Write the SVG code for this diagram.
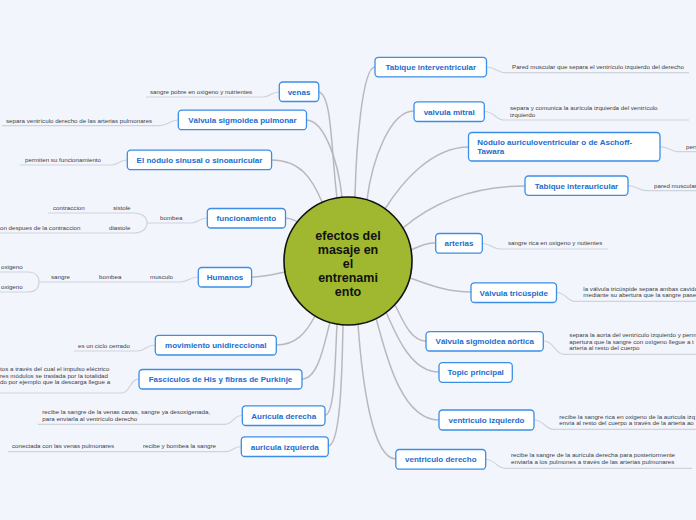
<svg xmlns="http://www.w3.org/2000/svg" width="696" height="520" viewBox="0 0 696 520">
<style>
.bg{fill:#f3f5fd}
.main{fill:none;stroke:#b9b9bd;stroke-width:1.5}
.leaf{fill:none;stroke:#cfd3dc;stroke-width:1.2}
.box{fill:#ffffff;stroke:#3a8ee6;stroke-width:1.3}
.nt{font-family:"Liberation Sans",Arial,sans-serif;font-weight:bold;font-size:8px;fill:#1b6ccf}
.nl{font-family:"Liberation Sans",Arial,sans-serif;font-weight:bold;font-size:8px;fill:#1b6ccf}
.lt{font-family:"Liberation Sans",Arial,sans-serif;font-size:6.2px;fill:#3d3d3d}
.ct{font-family:"Liberation Sans",Arial,sans-serif;font-weight:bold;font-size:12.5px;fill:#111;text-anchor:middle}
</style>
<rect class="bg" x="0" y="0" width="696" height="520"/>
<g id="connectors">
<path class="main" d="M318,92 C332,92 331,150 337,198"/>
<path class="main" d="M306,120 C324,120 338,160 342,197"/>
<path class="main" d="M271,160 C300,160 312,178 322,202"/>
<path class="main" d="M285,218 C291,218 293,220 298,222"/>
<path class="main" d="M251,277 C265,277 275,274 285,272"/>
<path class="main" d="M276,345 C296,345 306,333 315,316"/>
<path class="main" d="M302,379 C318,379 324,345 330,322"/>
<path class="main" d="M325,415 C335,415 335,360 337,324"/>
<path class="main" d="M328,446 C340,446 342,380 343,325"/>
<path class="main" d="M375,67 C362,67 356,150 355,197"/>
<path class="main" d="M414,111 C390,111 372,160 367,200"/>
<path class="main" d="M469,147 C430,147 400,185 385,209"/>
<path class="main" d="M525,186 C470,186 430,205 403,228"/>
<path class="main" d="M435,243 C424,243 418,247 411,250"/>
<path class="main" d="M471,292 C445,292 425,283 410,278"/>
<path class="main" d="M426,341 C410,341 402,318 395,305"/>
<path class="main" d="M439,372 C410,372 395,332 386,312"/>
<path class="main" d="M439,420 C400,420 385,350 376,318"/>
<path class="main" d="M396,459 C372,459 362,380 358,324"/>

<path class="leaf" d="M279,92 C271,92 270,97 263,97 L146,97"/>
<path class="leaf" d="M178,120 C170,120 168,125.7 160,125.7 L2,125.7"/>
<path class="leaf" d="M127,160 C119,160 118,165 112,165 L20,165"/>
<path class="leaf" d="M207,218 C199,218 198,223 192,223 L147,223"/>
<path class="leaf" d="M48,213 L133,213 C142,213 147,217 147,223 C147,229 142,233 133,233 L0,233"/>
<path class="leaf" d="M198,277 C190,277 188,282 180,282 L39,282"/>
<path class="leaf" d="M0,272 L28,272 C35,272 39,276 39,282 C39,288 35,292 28,292 L0,292"/>
<path class="leaf" d="M155,345 C146,345 145,351 137,351 L74,351"/>
<path class="leaf" d="M139,379 C130,379 130,393 122,393 L0,393"/>
<path class="leaf" d="M242,415.5 C233,415.5 233,424.3 225,424.3 L38,424.3"/>
<path class="leaf" d="M241,446.5 C233,446.5 233,451.7 226,451.7 L8,451.7"/>
<path class="leaf" d="M486.5,67 C496,67 497,72.7 506,72.7 L689,72.7"/>
<path class="leaf" d="M484.5,111.5 C495,111.5 495,120 504,120 L689,120"/>
<path class="leaf" d="M660,146.7 C669,146.7 670,151.7 678,151.7 L696,151.7"/>
<path class="leaf" d="M628,185.7 C637,185.7 638,190.7 647,190.7 L696,190.7"/>
<path class="leaf" d="M482.5,243.5 C491,243.5 492,249 500,249 L608,249"/>
<path class="leaf" d="M556.5,292.5 C566,292.5 567,301.3 575,301.3 L696,301.3"/>
<path class="leaf" d="M543.5,341 C554,341 555,354.3 564,354.3 L696,354.3"/>
<path class="leaf" d="M534,420 C544,420 545,429.3 553,429.3 L696,429.3"/>
<path class="leaf" d="M486,459.5 C495,459.5 497,468.3 505,468.3 L692,468.3"/>
</g>

<g id="center">
<circle cx="348" cy="261" r="64" fill="#a0b82f" stroke="#111" stroke-width="1.6"/>
<text class="ct" x="348" y="239.5">efectos del</text>
<text class="ct" x="348" y="253.5">masaje en</text>
<text class="ct" x="348" y="267.5">el</text>
<text class="ct" x="348" y="281.5">entrenami</text>
<text class="ct" x="348" y="295.5">ento</text>
</g>

<g id="venas">
<rect class="box" x="279.3" y="82" width="39.5" height="19.5" rx="3.5"/>
<text class="nt" x="299" y="94.8" text-anchor="middle">venas</text>
<text class="lt" x="150" y="94">sangre pobre en oxigeno y nutrientes</text>
</g>
<g id="valvula-sigmoidea-pulmonar">
<rect class="box" x="178.3" y="110.2" width="128.2" height="19.5" rx="3.5"/>
<text class="nt" x="242.4" y="122.9" text-anchor="middle">Válvula sigmoidea pulmonar</text>
<text class="lt" x="6" y="122.5">separa ventrículo derecho de las arterias pulmonares</text>
</g>
<g id="nodulo-sinusal">
<rect class="box" x="127.3" y="150.2" width="144.3" height="19.5" rx="3.5"/>
<text class="nt" x="199.5" y="162.9" text-anchor="middle">El nódulo sinusal o sinoauricular</text>
<text class="lt" x="25" y="162">permiten su funcionamiento</text>
</g>
<g id="funcionamiento">
<rect class="box" x="207.3" y="208.5" width="78.2" height="19.5" rx="3.5"/>
<text class="nt" x="246.4" y="221.2" text-anchor="middle">funcionamiento</text>
<text class="lt" x="160" y="220.3">bombea</text>
<text class="lt" x="113" y="210.3">sistole</text>
<text class="lt" x="53" y="210.3">contraccion</text>
<text class="lt" x="109" y="230.3">diastole</text>
<text class="lt" x="0" y="230.3">on despues de la contraccion</text>
</g>
<g id="humanos">
<rect class="box" x="198.3" y="267.5" width="53.3" height="19.5" rx="3.5"/>
<text class="nt" x="225" y="280.2" text-anchor="middle">Humanos</text>
<text class="lt" x="150" y="279.3">musculo</text>
<text class="lt" x="99" y="279.3">bombea</text>
<text class="lt" x="51" y="279.3">sangre</text>
<text class="lt" x="1" y="269.3">oxigeno</text>
<text class="lt" x="1" y="289.3">oxigeno</text>
</g>
<g id="movimiento-unidireccional">
<rect class="box" x="155.3" y="335.3" width="121" height="19.7" rx="3.5"/>
<text class="nt" x="215.8" y="348" text-anchor="middle">movimiento unidireccional</text>
<text class="lt" x="78" y="347.8">es un ciclo cerrado</text>
</g>
<g id="fasciculos">
<rect class="box" x="139" y="369.5" width="163" height="19.5" rx="3.5"/>
<text class="nt" x="220.5" y="382.2" text-anchor="middle">Fascículos de His y fibras de Purkinje</text>
<text class="lt" x="0" y="371.2">tos a través del cual el impulso eléctrico</text>
<text class="lt" x="0" y="377.8">res módulos se traslada por la totalidad</text>
<text class="lt" x="0" y="384.4">do por ejemplo que la descarga llegue a</text>
</g>
<g id="auricula-derecha">
<rect class="box" x="242.3" y="405.8" width="82.7" height="19.7" rx="3.5"/>
<text class="nt" x="283.7" y="418.5" text-anchor="middle">Aurícula derecha</text>
<text class="lt" x="42.3" y="413.8">recibe la sangre de la venas cavas, sangre ya desoxigenada,</text>
<text class="lt" x="42.3" y="421.3">para enviarla al ventrículo derecho</text>
</g>
<g id="auricula-izquierda">
<rect class="box" x="241.3" y="436.8" width="87" height="19.7" rx="3.5"/>
<text class="nt" x="284.8" y="449.5" text-anchor="middle">auricula izquierda</text>
<text class="lt" x="143" y="448.2">recibe y bombea la sangre</text>
<text class="lt" x="12" y="448.2">conectada con las venas pulmonares</text>
</g>

<g id="tabique-interventricular">
<rect class="box" x="375" y="57.3" width="111.5" height="19.5" rx="3.5"/>
<text class="nt" x="430.8" y="70" text-anchor="middle">Tabique interventricular</text>
<text class="lt" x="512" y="68.8">Pared muscular que separa el ventrículo izquierdo del derecho</text>
</g>
<g id="valvula-mitral">
<rect class="box" x="414" y="101.8" width="70.3" height="19.7" rx="3.5"/>
<text class="nt" x="449.2" y="114.5" text-anchor="middle">valvula mitral</text>
<text class="lt" x="510" y="109.8">separa y comunica la aurícula izquierda del ventrículo</text>
<text class="lt" x="510" y="117.2">izquierdo</text>
</g>
<g id="nodulo-auriculoventricular">
<rect class="box" x="468.5" y="132.5" width="191.5" height="28.5" rx="3.5"/>
<text class="nl" x="477.3" y="145.2">Nódulo auriculoventricular o de Aschoff-</text>
<text class="nl" x="477.3" y="154.2">Tawara</text>
<text class="lt" x="686" y="149.3">pers</text>
</g>
<g id="tabique-interauricular">
<rect class="box" x="525" y="176" width="103" height="19.3" rx="3.5"/>
<text class="nt" x="576.5" y="188.5" text-anchor="middle">Tabique interauricular</text>
<text class="lt" x="654" y="187.8">pared muscular</text>
</g>
<g id="arterias">
<rect class="box" x="435.7" y="233.5" width="46.6" height="19.7" rx="3.5"/>
<text class="nt" x="459" y="246.3" text-anchor="middle">arterias</text>
<text class="lt" x="508" y="244.8">sangre rica en oxigeno y nutientes</text>
</g>
<g id="valvula-tricuspide">
<rect class="box" x="471" y="282.8" width="85.5" height="19.7" rx="3.5"/>
<text class="nt" x="513.7" y="295.5" text-anchor="middle">Válvula tricúspide</text>
<text class="lt" x="583.3" y="290.8">la válvula tricúspide separa ambas cavida</text>
<text class="lt" x="583.3" y="297.4">mediante su abertura que la sangre pase</text>
</g>
<g id="valvula-sigmoidea-aortica">
<rect class="box" x="426" y="331.7" width="117.3" height="19.3" rx="3.5"/>
<text class="nt" x="484.7" y="344.2" text-anchor="middle">Válvula sigmoidea aórtica</text>
<text class="lt" x="569.3" y="337.2">separa la aorta del ventrículo izquierdo y perm</text>
<text class="lt" x="569.3" y="343.8">apertura que la sangre con oxígeno llegue a t</text>
<text class="lt" x="569.3" y="350.4">arteria al resto del cuerpo</text>
</g>
<g id="topic-principal">
<rect class="box" x="439" y="362.7" width="73.3" height="19.6" rx="3.5"/>
<text class="nt" x="475.7" y="375.4" text-anchor="middle">Topic principal</text>
</g>
<g id="ventriculo-izquierdo">
<rect class="box" x="439" y="410" width="95" height="20" rx="3.5"/>
<text class="nt" x="486.5" y="422.8" text-anchor="middle">ventriculo izquierdo</text>
<text class="lt" x="559.3" y="418.8">recibe la sangre rica en oxigeno de la auricula izq</text>
<text class="lt" x="559.3" y="425.4">envía al resto del cuerpo a través de la arteria ao</text>
</g>
<g id="ventriculo-derecho">
<rect class="box" x="395.8" y="449.5" width="89.9" height="19.7" rx="3.5"/>
<text class="nt" x="440.8" y="462.2" text-anchor="middle">ventriculo derecho</text>
<text class="lt" x="511" y="457.3">recibe la sangre de la aurícula derecha para posteriormente</text>
<text class="lt" x="511" y="463.9">enviarla a los pulmones a través de las arterias pulmonares</text>
</g>
</svg>
